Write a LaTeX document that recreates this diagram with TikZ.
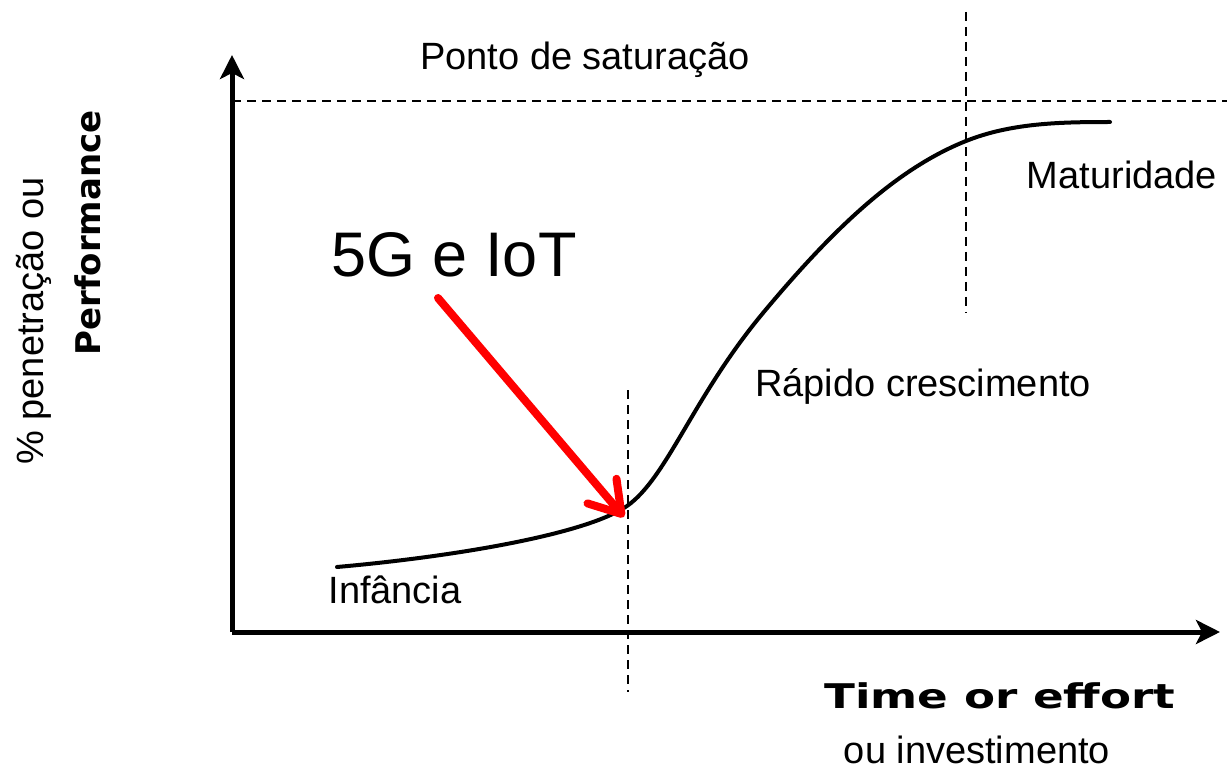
\documentclass[tikz,border=0pt]{standalone}
\usepackage{fontspec}
\setmainfont{Liberation Sans}
\newfontfamily\wideb{DejaVu Sans}[BoldFont={DejaVu Sans Bold}]
\usetikzlibrary{arrows.meta}
\tikzset{
  axis/.style={line width=5pt, -{Stealth[length=24pt,width=24pt,inset=6pt]}},
  guide/.style={line width=1.8pt, dash pattern=on 9pt off 6pt},
  curve/.style={line width=4pt, line cap=round},
  lbl/.style={inner sep=0pt, font=\fontsize{38}{41}\selectfont},
  redarrow/.style={red, line width=8pt, line cap=round, -{Straight Barb[length=30pt,width=38pt,line cap=round,line join=round]}}
}
\begin{document}
\begin{tikzpicture}[x=1pt,y=-1pt]
\useasboundingbox (0,0) rectangle (1227,770);
\coordinate (O) at (232,632);
\coordinate (ytop) at (232,55);
\coordinate (xend) at (1220,632);
\draw[axis] (O) -- (ytop);
\draw[axis] (O) -- (xend);
% guide lines
\coordinate (h1) at (232,101);
\coordinate (h2) at (1227,101);
\draw[guide] (h1) -- (h2);
\coordinate (v1a) at (966,12);
\coordinate (v1b) at (966,313);
\draw[guide] (v1a) -- (v1b);
\coordinate (v2a) at (628,390);
\coordinate (v2b) at (628,692);
\draw[guide] (v2a) -- (v2b);
% S-curve
\coordinate (c0) at (337,567);
\coordinate (c1) at (627,506);
\coordinate (c2) at (763,313);
\coordinate (c3) at (966,141);
\coordinate (c4) at (1110,122);
\draw[curve] (c0) .. controls (450,557) and (585,535) .. (c1)
  .. controls (667,478) and (693,397) .. (c2)
  .. controls (833,229) and (896,169) .. (c3)
  .. controls (1011,123) and (1060,122) .. (c4);
% labels
\node[lbl] (ponto) at (585,60) {Ponto de saturação};
\node[lbl] (mat) at (1122,175) {Maturidade};
\node[inner sep=0pt, font=\fontsize{63}{66}\selectfont] (g5) at (454,255) {5G e IoT};
\node[lbl] (rap) at (923,386) {Rápido crescimento};
\node[lbl] (inf) at (395,590) {Infância};
\node[lbl] (inv) at (977,750) {ou investimento};
\node[inner sep=0pt, font=\wideb\bfseries\fontsize{34}{36}\selectfont, xscale=1.33, transform shape] (time) at (1000,696) {Time or effort};
\node[lbl, rotate=90] (pen) at (34,321) {\% penetração ou};
\node[inner sep=0pt, rotate=90, font=\wideb\bfseries\fontsize{34}{36}\selectfont] (perf) at (88,233) {Performance};
% red arrow
\coordinate (rs) at (438,298);
\coordinate (re) at (624,517);
\draw[redarrow] (rs) -- (re);
\end{tikzpicture}
\end{document}
